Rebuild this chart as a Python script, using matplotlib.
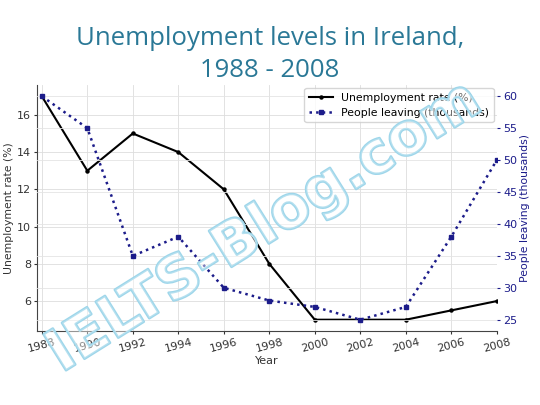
import matplotlib
matplotlib.use("Agg")
import matplotlib.pyplot as plt
import matplotlib.patheffects as pe

years = [1988, 1990, 1992, 1994, 1996, 1998, 2000, 2002, 2004, 2006, 2008]
unemployment = [17, 13, 15, 14, 12, 8, 5, 5, 5, 5.5, 6]
leaving = [60, 55, 35, 38, 30, 28, 27, 25, 27, 38, 50]

navy = "#1c1c8a"
title_col = "#2a7896"

fig = plt.figure(figsize=(5.4, 4.05), dpi=100)
ax = fig.add_axes([0.069, 0.183, 0.851, 0.607])
ax2 = ax.twinx()

l1, = ax.plot(years, unemployment, color="black", marker="o", markersize=2.2,
              linewidth=1.5, label="Unemployment rate (%)")
l2, = ax2.plot(years, leaving, color=navy, marker="s", markersize=2.5,
               linestyle=":", linewidth=1.8, label="People leaving (thousands)")

ax.set_xlim(1987.8, 2008)
ax.set_xticks(years)
ax.tick_params(axis="x", labelrotation=15, labelsize=8, colors="#333333",
               length=2.5, pad=2)
ax.tick_params(axis="y", labelsize=8, colors="#333333", length=2.5, pad=2)
ax2.tick_params(axis="y", labelsize=8, colors=navy, length=2.5, pad=2)
ax.set_xlabel("Year", fontsize=8, color="#333333", labelpad=1)
ax.set_ylabel("Unemployment rate (%)", fontsize=7.8, color="#333333", labelpad=2)
ax2.set_ylabel("People leaving (thousands)", fontsize=7.8, color=navy, labelpad=2)

ax.grid(True, color="#dddddd", linewidth=0.6)
ax2.grid(True, color="#e4e4e4", linewidth=0.6)
for a in (ax, ax2):
    a.spines["top"].set_visible(False)
    a.spines["right"].set_visible(False)
ax2.spines["left"].set_visible(False)
ax2.spines["bottom"].set_visible(False)
ax.spines["left"].set_color("#444444")
ax.spines["bottom"].set_color("#444444")

ax2.legend(handles=[l1, l2], loc="upper right", fontsize=7.8,
           frameon=True, borderaxespad=0.3, handlelength=2.2)

fig.text(0.5, 0.905, "Unemployment levels in Ireland,", ha="center", va="center",
         fontsize=18.5, color=title_col, family="Open Sans")
fig.text(0.5, 0.825, "1988 - 2008", ha="center", va="center",
         fontsize=18.5, color=title_col, family="Open Sans")

# watermark
fig.text(0.49, 0.44, "IELTS-Blog.com", ha="center", va="center", rotation=32,
         fontsize=42, fontweight="bold", color=(1, 1, 1, 0.25),
         path_effects=[pe.Stroke(linewidth=1.8, foreground="#9ed6ea"), pe.Normal()])

fig.savefig("out.png", dpi=100)
